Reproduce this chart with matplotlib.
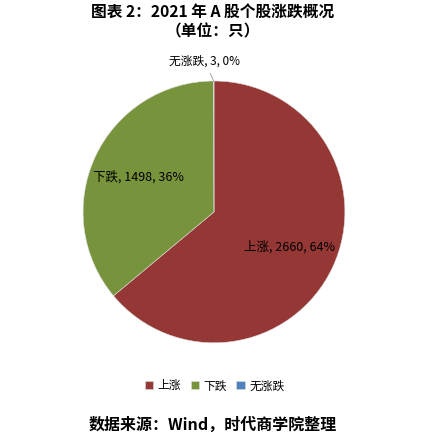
import matplotlib
matplotlib.use("Agg")
import matplotlib.pyplot as plt
import numpy as np

plt.rcParams['font.family'] = ['Noto Sans CJK SC', 'DejaVu Sans']

categories = ["上涨", "下跌", "无涨跌"]
values = [2660, 1498, 3]
colors = ["#953735", "#77933C", "#4F81BD"]

fig = plt.figure(figsize=(4.25, 4.36), dpi=100)
ax = fig.add_axes([0.5035 - 0.308, 0.514 - 0.3005, 0.616, 0.601])
wedges, _ = ax.pie(values, colors=colors, startangle=90, counterclock=False,
                   wedgeprops=dict(linewidth=0.4, edgecolor="#dddddd"))
ax.set_xlim(-1, 1)
ax.set_ylim(-1, 1)
ax.set_aspect('equal')
ax.axis('off')

total = sum(values)
for w, cat, v in zip(wedges, categories, values):
    pct = round(v / total * 100)
    txt = f"{cat}, {v}, {pct}%"
    ang = np.deg2rad((w.theta1 + w.theta2) / 2)
    if v / total > 0.05:
        r = 0.64
        ax.text(r * np.cos(ang), r * np.sin(ang), txt, ha='center', va='center',
                fontsize=9, color='black', clip_on=False)
    else:
        ax.annotate(txt, xy=(np.cos(ang), np.sin(ang)), xytext=(-0.07, 1.15),
                    ha='center', va='center', fontsize=8.5, color='black',
                    annotation_clip=False,
                    arrowprops=dict(arrowstyle='-', color='#999999', lw=0.6,
                                    shrinkA=2, shrinkB=0))

fig.text(0.5, 0.970, "图表 2：2021 年 A 股个股涨跌概况", ha='center', va='center',
         fontsize=11.3, fontweight='bold')
fig.text(0.5, 0.929, "（单位：只）", ha='center', va='center',
         fontsize=11.3, fontweight='bold')

leg = fig.legend(wedges, categories, loc='center', bbox_to_anchor=(0.505, 0.115),
                 ncol=3, frameon=False, fontsize=8.5, handlelength=0.7, handleheight=0.7,
                 handletextpad=0.4, columnspacing=0.8)

fig.text(0.5, 0.027, "数据来源：Wind，时代商学院整理", ha='center', va='center',
         fontsize=11.5, fontweight='bold')

fig.savefig("out.png", dpi=100)
